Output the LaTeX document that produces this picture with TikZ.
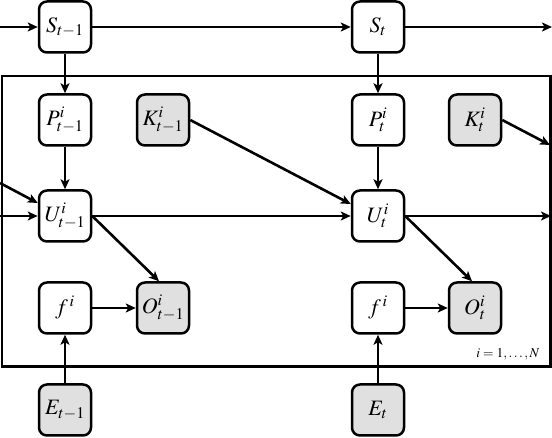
\documentclass[tikz,border=0pt]{standalone}
\usepackage{mathptmx}
\usetikzlibrary{arrows.meta}
\definecolor{obsgray}{gray}{0.88}
\begin{document}
\begin{tikzpicture}[x=1pt,y=-1pt,
  var/.style={draw, line width=2.5pt, rounded corners=8pt, minimum width=52pt, minimum height=51pt, inner sep=0pt, font=\fontsize{22}{26}\selectfont, fill=white},
  obs/.style={var, fill=obsgray},
  arr/.style={line width=2.6pt, -{Stealth[length=10pt,width=9pt,inset=2.5pt]}},
  plate/.style={line width=2.8pt}]
\useasboundingbox (0,0) rectangle (552,438);
\draw[plate] (2,76) rectangle (550.6,366.6);
\node[var] (St1) at (65,27) {$S_{t-1}$};
\node[var] (St) at (378,27) {$S_{t}$};
\node[var] (Pt1) at (65,120) {$P^{i}_{t-1}$};
\node[obs] (Kt1) at (163,120) {$K^{i}_{t-1}$};
\node[var] (Pt) at (378,120) {$P^{i}_{t}$};
\node[obs] (Kt) at (475,120) {$K^{i}_{t}$};
\node[var] (Ut1) at (65,216) {$U^{i}_{t-1}$};
\node[var] (Ut) at (378,216) {$U^{i}_{t}$};
\node[var] (f1) at (65,308) {$f^{\,i}$};
\node[obs] (Ot1) at (163,308) {$O^{i}_{t-1}$};
\node[var] (f2) at (378,308) {$f^{\,i}$};
\node[obs] (Ot) at (475,308) {$O^{i}_{t}$};
\node[obs] (Et1) at (65,410) {$E_{t-1}$};
\node[obs] (Et) at (378,410) {$E_{t}$};
\node[anchor=base east, font=\fontsize{13.5}{16}\selectfont] (lbl) at (543,358) {$i=1,\ldots,N$};
\coordinate (inS) at (0,27);
\coordinate (outS) at (552,27);
\coordinate (inU) at (0,216);
\coordinate (inUd) at (0,183);
\coordinate (outU) at (551,216);
\coordinate (outK) at (550,145);
\draw[arr] (inS) -- (St1);
\draw[arr] (St1) -- (St);
\draw[arr] (St) -- (outS);
\draw[arr] (St1) -- (Pt1);
\draw[arr] (St) -- (Pt);
\draw[arr] (Pt1) -- (Ut1);
\draw[arr] (Pt) -- (Ut);
\draw[arr] (inUd) -- ([yshift=13pt]Ut1.west);
\draw[arr] (inU) -- (Ut1);
\draw[arr] (Kt1.east) -- ([yshift=12pt]Ut.west);
\draw[arr] (Ut1) -- (Ut);
\draw[arr] (Ut) -- (outU);
\draw[arr] (Kt.east) -- (outK);
\draw[arr] (Ut1.east) -- ([xshift=-4pt]Ot1.north);
\draw[arr] (Ut.east) -- ([xshift=-3pt]Ot.north);
\draw[arr] (f1) -- (Ot1);
\draw[arr] (f2) -- (Ot);
\draw[arr] (Et1) -- (f1);
\draw[arr] (Et) -- (f2);
\end{tikzpicture}
\end{document}
